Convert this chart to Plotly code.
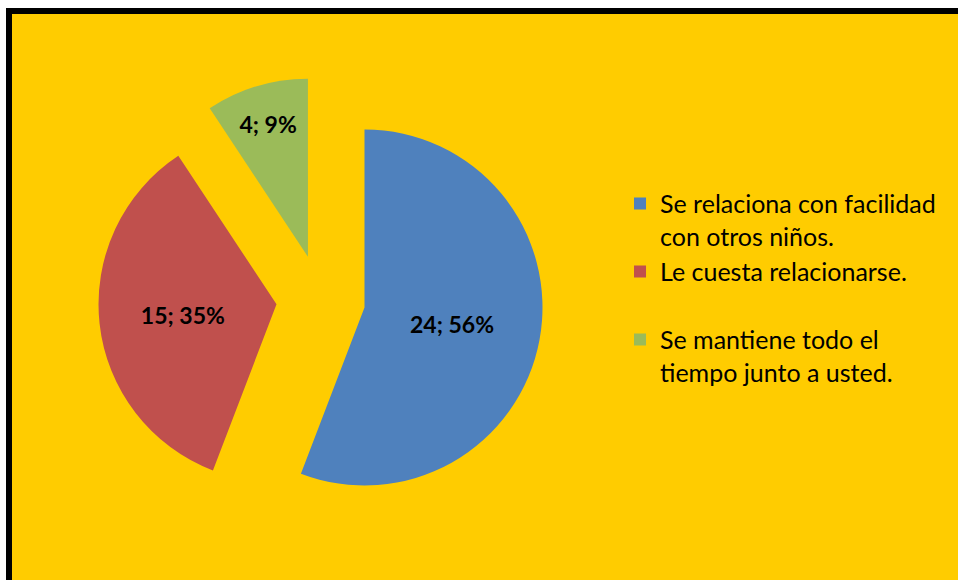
import plotly.graph_objects as go

categories = [
    "Se relaciona con facilidad<br>con otros niños.",
    "Le cuesta relacionarse.<br> ",
    "Se mantiene todo el<br>tiempo junto a usted.",
]
values = [24, 15, 4]
colors = ["#4F81BD", "#C0504D", "#9BBB59"]

W, H = 958, 580

fig = go.Figure(
    go.Pie(
        labels=categories,
        values=values,
        marker=dict(colors=colors, line=dict(width=0)),
        sort=False,
        direction="clockwise",
        rotation=0,
        pull=[0.25, 0.25, 0.25],
        texttemplate="<b>%{value}; %{percent:.0%}</b>",
        textposition="inside",
        insidetextorientation="horizontal",
        textfont=dict(family="Lato", size=23, color="black"),
        domain=dict(x=[0.0848, 0.5848], y=[0.1002, 0.8674]),
        hoverinfo="label+value+percent",
    )
)

fig.update_layout(
    width=W,
    height=H,
    margin=dict(l=0, r=0, t=0, b=0),
    paper_bgcolor="white",
    showlegend=True,
    legend=dict(
        x=0.6472,
        y=0.6885,
        xanchor="left",
        yanchor="top",
        valign="top",
        font=dict(family="Lato", size=25, color="black"),
        bgcolor="rgba(0,0,0,0)",
        itemwidth=30,
    ),
    shapes=[
        dict(
            type="rect", xref="paper", yref="paper",
            x0=9 / W, x1=1.3, y0=-0.3, y1=1 - 11 / H,
            fillcolor="#FFCC00", line=dict(width=0),
            layer="below",
        ),
        dict(
            type="line", xref="paper", yref="paper",
            x0=9 / W, x1=9 / W, y0=-0.3, y1=1 - 8 / H,
            line=dict(color="black", width=6), layer="below",
        ),
        dict(
            type="line", xref="paper", yref="paper",
            x0=6 / W, x1=1.3, y0=1 - 11 / H, y1=1 - 11 / H,
            line=dict(color="black", width=6), layer="below",
        ),
    ],
)

fig.write_html(
    "out.html",
    config={"displayModeBar": False},
    post_script="document.body.style.margin='0';document.body.style.overflow='hidden';",
)
